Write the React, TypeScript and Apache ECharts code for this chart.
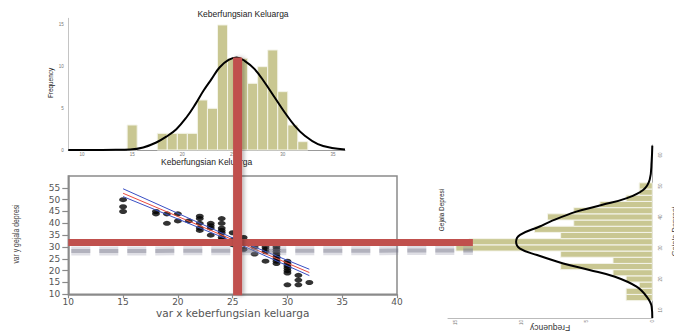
import React, { useEffect, useRef } from 'react';
import * as echarts from 'echarts';

// ---- Top histogram: Keberfungsian Keluarga ----
const TOP_BIN = [15, 18, 19, 20, 21, 22, 23, 24, 25, 26, 27, 28, 29, 30, 31, 32];
const TOP_FREQ = [3, 2, 2, 2, 2, 6, 5, 15, 11, 11, 8, 10, 12, 7, 3, 1];
const TOP_CURVE_X = [8.64, 12, 14, 14.8, 16.1, 17.4, 18.4, 19.4, 20.4, 21.3, 22.1, 22.9, 23.7, 24.6, 25.4, 26.2, 27.2, 28.2, 29.2, 30.2, 31.2, 32.2, 33.5, 34.9, 36.2];
const TOP_CURVE_Y = [0, 0, 0.03, 0.05, 0.3, 0.9, 1.6, 2.5, 3.9, 5.5, 7.1, 8.5, 9.9, 10.8, 11.1, 10.7, 9.7, 8.1, 6.3, 4.5, 2.9, 1.7, 0.7, 0.24, 0.07];
const TOP_X_TICKS = [10, 15, 20, 25, 30, 35];
const TOP_Y_TICKS = [0, 5, 10, 15];

// ---- Scatter: x vs y ----
const SCATTER_X = [15, 15, 15, 18, 18, 19, 19, 20, 20, 21, 22, 22, 22, 22, 22, 23, 23, 23, 23, 24, 24, 24, 24, 24, 24, 24, 25, 25, 25, 26, 26, 26, 27, 27, 28, 28, 28, 28, 29, 29, 29, 29, 29, 29, 29, 29, 30, 30, 30, 30, 30, 30, 30, 31, 31, 31, 32];
const SCATTER_Y = [50, 47, 45, 45, 44, 44, 40, 44, 41, 41, 43, 42, 40, 38, 37, 40, 39, 38, 35, 42, 40, 38, 37, 36, 34, 33, 36, 33, 31, 34, 32, 29, 30, 27, 30, 29, 28, 24, 30, 29, 28, 27, 26, 25, 24, 23, 24, 23, 22, 21, 20, 19, 14, 18, 16, 14, 15];
const FIT_X = [15, 25.4, 32];
const FIT_Y = [52.7, 32.3, 19.2];
const CI_UPPER = [54.6, 33.0, 20.6];
const CI_LOWER = [51.3, 31.6, 17.9];
const SC_Y_TICKS = [10, 15, 20, 25, 30, 35, 40, 45, 50, 55];

// ---- Right (rotated) histogram: Gejala Depresi ----
const RIGHT_BIN = [14, 16, 18, 20, 22, 24, 26, 28, 30, 32, 34, 36, 38, 40, 42, 44, 46, 48, 50];
const RIGHT_FREQ = [2, 2, 1, 2, 3, 7, 3, 7, 15, 14, 7, 9, 6, 8, 6, 4, 2, 1, 1];
const RIGHT_CURVE_VAL = [63, 58, 52, 48.7, 46, 43.9, 41.7, 38.5, 36.9, 34.2, 32, 29.8, 27.7, 25, 22.9, 20.7, 17.5, 14.3, 11.1, 7.4];
const RIGHT_CURVE_FREQ = [0, 0.05, 0.2, 0.7, 2.0, 3.8, 5.8, 7.8, 8.6, 10.1, 10.4, 10.1, 8.8, 6.8, 4.8, 2.85, 1.2, 0.43, 0.05, 0];
const R_VAL_TICKS = [10, 20, 30, 40, 50, 60];
const R_FREQ_TICKS = [0, 5, 10, 15];

// ---- crosshair (means) ----
const MEAN_X = 25.5;
const PEAK = 11.1;
const MEAN_Y = 31.9;
const CROSS_FREQ = 13.7;

const BAR = '#c9c792';
const RED = '#c0504d';

export default function App() {
  const ref = useRef<HTMLDivElement>(null);
  useEffect(() => {
    if (!ref.current) return;
    const chart = echarts.init(ref.current, undefined, { renderer: 'svg' });
    const tiny = { fontSize: 4.5, color: '#777', fontFamily: 'Liberation Sans' };
    const scLabel = { fontSize: 9, color: '#555', fontFamily: 'DejaVu Sans' };

    const option: any = {
      animation: false,
      backgroundColor: '#fff',
      grid: [
        { left: 68.3, top: 18.3, width: 276.7, height: 131.7, outerBoundsMode: 'none' },
        { left: 68.3, top: 176, width: 328.7, height: 118.3, show: true, borderColor: '#8a8a8a', borderWidth: 1.5, outerBoundsMode: 'none' },
        { left: 448, top: 145, width: 204.3, height: 173, outerBoundsMode: 'none' },
      ],
      xAxis: [
        {
          gridIndex: 0, type: 'value', min: 8.64, max: 36.2,
          axisLine: { lineStyle: { color: '#999', width: 1 } },
          axisTick: { show: false }, splitLine: { show: false },
          axisLabel: { ...tiny, customValues: TOP_X_TICKS, margin: 2 },
          name: 'Keberfungsian Keluarga', nameLocation: 'middle', nameGap: 7.5,
          nameTextStyle: { fontSize: 8.5, color: '#222', fontFamily: 'Liberation Sans' },
        },
        {
          gridIndex: 1, type: 'value', min: 10, max: 40, interval: 5,
          axisLine: { lineStyle: { color: '#8a8a8a', width: 1.5 } },
          axisTick: { length: 4, lineStyle: { color: '#8a8a8a', width: 1.2 } },
          splitLine: { show: false },
          axisLabel: { ...scLabel, margin: 3 },
          name: 'var x keberfungsian keluarga', nameLocation: 'middle', nameGap: 13,
          nameTextStyle: { fontSize: 10.5, color: '#555', fontFamily: 'DejaVu Sans' },
        },
        {
          gridIndex: 2, type: 'value', min: 0, max: 15.6, inverse: true,
          axisLine: { lineStyle: { color: '#bbb', width: 1 } },
          axisTick: { show: false }, splitLine: { show: false },
          axisLabel: { ...tiny, customValues: R_FREQ_TICKS, rotate: 90, margin: 2 },
        },
      ],
      yAxis: [
        {
          gridIndex: 0, type: 'value', min: 0, max: 15.8,
          axisLine: { show: true, lineStyle: { color: '#c4c4c4', width: 1 } },
          axisTick: { show: false }, splitLine: { show: false },
          axisLabel: { ...tiny, customValues: TOP_Y_TICKS, margin: 4.5 },
        },
        {
          gridIndex: 1, type: 'value', min: 10, max: 60,
          axisLine: { show: true, lineStyle: { color: '#8a8a8a', width: 1.5 } },
          axisTick: { show: true, length: 6, customValues: SC_Y_TICKS, lineStyle: { color: '#8a8a8a', width: 1.2 } },
          splitLine: { show: false },
          axisLabel: { ...scLabel, customValues: SC_Y_TICKS, margin: 8 },
        },
        {
          gridIndex: 2, type: 'value', min: 7.4, max: 63.2, position: 'right',
          axisLine: { show: true, lineStyle: { color: '#aaa', width: 1 } },
          axisTick: { show: false }, splitLine: { show: false },
          axisLabel: { ...tiny, customValues: R_VAL_TICKS, rotate: 90, margin: 6 },
          name: 'Gejala Depresi', nameLocation: 'middle', nameGap: 18, nameRotate: 90,
          nameTextStyle: { fontSize: 7.5, color: '#333', fontFamily: 'Liberation Sans' },
        },
      ],
      series: [
        {
          type: 'custom', xAxisIndex: 0, yAxisIndex: 0, z: 2,
          data: TOP_BIN.map((b, i) => [b, TOP_FREQ[i]]),
          renderItem: (params: any, api: any) => {
            const c = api.value(0), n = api.value(1);
            const p1 = api.coord([c - 0.5, n]);
            const p2 = api.coord([c + 0.5, 0]);
            return {
              type: 'rect',
              shape: { x: p1[0], y: p1[1], width: p2[0] - p1[0], height: p2[1] - p1[1] },
              style: { fill: BAR, stroke: '#f4f4ea', lineWidth: 1 },
            };
          },
        },
        {
          type: 'line', xAxisIndex: 0, yAxisIndex: 0, z: 3, smooth: 0.4, symbol: 'none',
          data: TOP_CURVE_X.map((x, i) => [x, TOP_CURVE_Y[i]]),
          lineStyle: { color: '#000', width: 2 },
        },
        {
          type: 'scatter', xAxisIndex: 1, yAxisIndex: 1, z: 3,
          symbol: 'circle', symbolSize: [8, 5],
          itemStyle: { color: '#000' },
          data: SCATTER_X.map((x, i) => [x, SCATTER_Y[i]]),
        },
        {
          type: 'line', xAxisIndex: 1, yAxisIndex: 1, z: 4, symbol: 'none',
          data: FIT_X.map((x, i) => [x, CI_UPPER[i]]),
          lineStyle: { color: '#3a4fc4', width: 1 },
        },
        {
          type: 'line', xAxisIndex: 1, yAxisIndex: 1, z: 4, symbol: 'none',
          data: FIT_X.map((x, i) => [x, CI_LOWER[i]]),
          lineStyle: { color: '#3a4fc4', width: 1 },
        },
        {
          type: 'line', xAxisIndex: 1, yAxisIndex: 1, z: 4, symbol: 'none',
          data: FIT_X.map((x, i) => [x, FIT_Y[i]]),
          lineStyle: { color: '#ec4a3e', width: 1 },
        },
        {
          type: 'custom', xAxisIndex: 2, yAxisIndex: 2, z: 2,
          data: RIGHT_BIN.map((b, i) => [RIGHT_FREQ[i], b]),
          renderItem: (params: any, api: any) => {
            const n = api.value(0), c = api.value(1);
            const p1 = api.coord([n, c + 1]);
            const p2 = api.coord([0, c - 1]);
            return {
              type: 'rect',
              shape: {
                x: Math.min(p1[0], p2[0]), y: Math.min(p1[1], p2[1]),
                width: Math.abs(p2[0] - p1[0]), height: Math.abs(p2[1] - p1[1]),
              },
              style: { fill: BAR, stroke: '#f4f4ea', lineWidth: 1 },
            };
          },
        },
        {
          type: 'line', xAxisIndex: 2, yAxisIndex: 2, z: 3, smooth: 0.4, symbol: 'none',
          data: RIGHT_CURVE_FREQ.map((f, i) => [f, RIGHT_CURVE_VAL[i]]),
          lineStyle: { color: '#000', width: 2 },
        },
      ],
    };
    chart.setOption(option);

    const top = chart.convertToPixel({ gridIndex: 0 }, [MEAN_X, PEAK]) as number[];
    const scBottom = chart.convertToPixel({ gridIndex: 1 }, [MEAN_X, 10]) as number[];
    const hLeft = chart.convertToPixel({ gridIndex: 1 }, [10, MEAN_Y]) as number[];
    const hRight = chart.convertToPixel({ gridIndex: 2 }, [CROSS_FREQ, MEAN_Y]) as number[];
    const rMid = chart.convertToPixel({ gridIndex: 2 }, [7.8, 7.4]) as number[];

    chart.setOption({
      graphic: [
        {
          type: 'text', x: 243, y: 14, z: 20,
          style: { text: 'Keberfungsian Keluarga', fontSize: 8.5, fill: '#222', fontFamily: 'Liberation Sans', align: 'center', verticalAlign: 'middle' },
        },
        {
          type: 'text', x: 50, y: 83, rotation: Math.PI / 2, scaleX: 0.8, z: 20,
          style: { text: 'Frequency', fontSize: 8, fill: '#222', fontFamily: 'Liberation Sans', align: 'center', verticalAlign: 'middle' },
        },
        {
          type: 'text', x: 16, y: 234, rotation: Math.PI / 2, scaleX: 0.72, z: 20,
          style: { text: 'var y gejala depresi', fontSize: 9.5, fill: '#444', fontFamily: 'Liberation Sans', align: 'center', verticalAlign: 'middle' },
        },
        {
          type: 'text', x: 441.5, y: 210, rotation: Math.PI / 2, scaleX: 0.8, z: 20,
          style: { text: 'Gejala Depresi', fontSize: 8, fill: '#222', fontFamily: 'Liberation Sans', align: 'center', verticalAlign: 'middle' },
        },
        {
          type: 'text', x: rMid[0], y: rMid[1] + 10, rotation: Math.PI, z: 20,
          style: { text: 'Frequency', fontSize: 8.5, fill: '#333', fontFamily: 'Liberation Sans', align: 'center', verticalAlign: 'middle' },
        },
        {
          type: 'line', z: 18,
          shape: { x1: hLeft[0] + 3, y1: hLeft[1] + 8.5, x2: hRight[0], y2: hRight[1] + 8.5 },
          style: { stroke: 'rgba(150,150,168,0.3)', lineWidth: 9, lineDash: [19, 9] },
        },
        {
          type: 'line', z: 18,
          shape: { x1: hLeft[0] + 3, y1: hLeft[1] + 8.5, x2: hRight[0], y2: hRight[1] + 8.5 },
          style: { stroke: 'rgba(110,110,130,0.4)', lineWidth: 4, lineDash: [19, 9] },
        },
        {
          type: 'rect', z: 19,
          shape: { x: hLeft[0], y: hLeft[1] - 3.5, width: hRight[0] - hLeft[0], height: 7 },
          style: { fill: RED },
        },
        {
          type: 'rect', z: 19,
          shape: { x: top[0] - 4.5, y: top[1], width: 9, height: scBottom[1] + 1 - top[1] },
          style: { fill: RED, shadowBlur: 4, shadowOffsetX: 2, shadowColor: 'rgba(0,0,0,0.3)' },
        },
      ],
    });

    return () => chart.dispose();
  }, []);
  return <div ref={ref} style={{ position: 'fixed', left: 0, top: 0, width: 674, height: 335 }} />;
}
